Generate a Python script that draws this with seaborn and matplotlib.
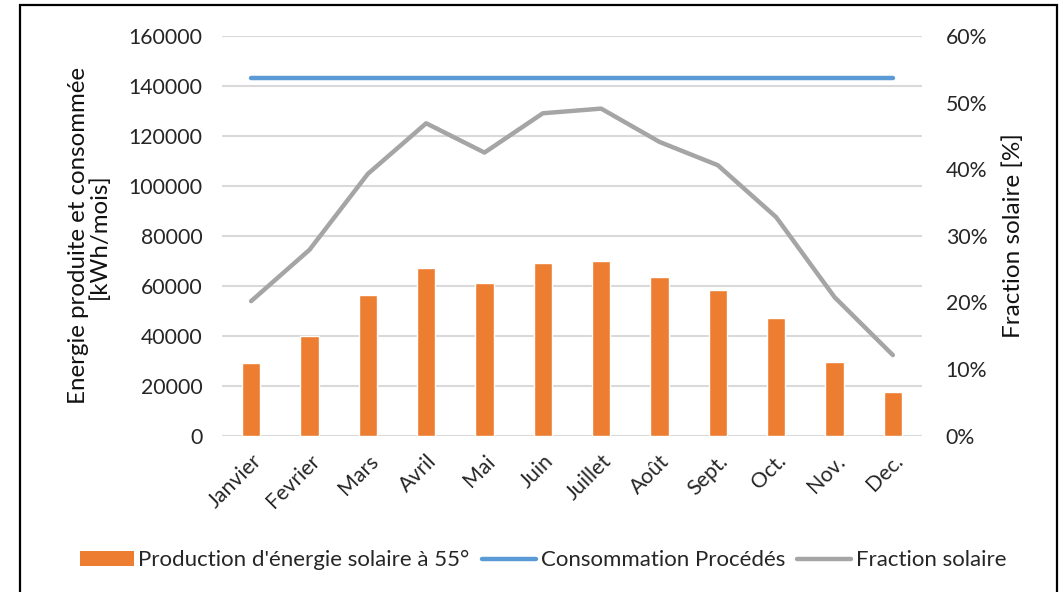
import matplotlib
matplotlib.use("Agg")
import matplotlib.pyplot as plt
from matplotlib.patches import Patch, Rectangle
from matplotlib.lines import Line2D
from matplotlib.ticker import FuncFormatter, MultipleLocator
import seaborn as sns
import pandas as pd

# Monthly data
months = ["Janvier", "Fevrier", "Mars", "Avril", "Mai", "Juin",
          "Juillet", "Août", "Sept.", "Oct.", "Nov.", "Dec."]
production = [29200, 39900, 56500, 67100, 61000, 69200,
              70100, 63600, 58400, 47200, 29600, 17300]
consommation = [143200] * 12
fraction = [0.202, 0.279, 0.393, 0.469, 0.425, 0.484,
            0.491, 0.441, 0.406, 0.328, 0.208, 0.121]

labels_legend = ["Production d'énergie solaire à 55°",
                 "Consommation Procédés", "Fraction solaire"]

ORANGE = "#ED7D31"
BLUE = "#5B9BD5"
GREY = "#A5A5A5"
GRID = "#D9D9D9"
TXT = "#262626"

df = pd.DataFrame({"mois": months, "production": production,
                   "consommation": consommation, "fraction": fraction})

sns.set_theme(style="white")
plt.rcParams["font.family"] = ["Lato", "DejaVu Sans"]

fig = plt.figure(figsize=(10.63, 5.92), dpi=100)
ax = fig.add_axes([0.2088, 0.2640, 0.6586, 0.6752])

sns.barplot(data=df, x="mois", y="production", color=ORANGE,
            saturation=1, width=0.31, ax=ax, zorder=2)
sns.lineplot(data=df, x="mois", y="consommation", color=BLUE, lw=3.2,
             sort=False, ax=ax, zorder=3,
             solid_capstyle="round", solid_joinstyle="round")

ax.set_ylim(0, 160000)
ax.set_xlim(-0.5, len(months) - 0.5)
ax.yaxis.set_major_locator(MultipleLocator(20000))
ax.grid(axis="y", color=GRID, lw=1.5, zorder=0)
ax.set_axisbelow(True)
for s in ax.spines.values():
    s.set_visible(False)
ax.tick_params(axis="both", length=0, labelsize=15.3, colors=TXT)
ax.tick_params(axis="y", pad=14)
ax.tick_params(axis="x", pad=11)
for lab in ax.get_xticklabels():
    lab.set_rotation(45)
    lab.set_ha("right")
    lab.set_rotation_mode("anchor")
ax.set_xlabel("")
ax.set_ylabel("Energie produite et consommée\n[kWh/mois]",
              fontsize=17.3, color="#111111", labelpad=13, linespacing=1.0)

ax2 = ax.twinx()
sns.lineplot(data=df, x="mois", y="fraction", color=GREY, lw=3.2,
             sort=False, ax=ax2, zorder=3,
             solid_capstyle="round", solid_joinstyle="round")
ax2.set_ylim(0, 0.6)
ax2.yaxis.set_major_locator(MultipleLocator(0.1))
ax2.yaxis.set_major_formatter(FuncFormatter(lambda v, _: f"{v * 100:.0f}%"))
ax2.grid(False)
for s in ax2.spines.values():
    s.set_visible(False)
ax2.tick_params(axis="y", length=0, labelsize=15.3, colors=TXT, pad=17)
ax2.set_xlabel("")
ax2.set_ylabel("Fraction solaire [%]", fontsize=17.5, color="#111111",
               labelpad=11)

handles = [Patch(facecolor=ORANGE, edgecolor="none"),
           Line2D([], [], color=BLUE, lw=3.2, solid_capstyle="round"),
           Line2D([], [], color=GREY, lw=3.2, solid_capstyle="round")]
fig.legend(handles, labels_legend, loc="center", ncol=3,
           bbox_to_anchor=(0.511, 1 - 560 / 592), frameon=False,
           fontsize=16, handlelength=2.43, handleheight=0.63,
           handletextpad=0.22, columnspacing=0.55, labelcolor=TXT)

# Outer frame around the chart
fig.patches.append(Rectangle((20 / 1063, -0.05), 1037 / 1063, 1.05 - 5 / 592,
                             transform=fig.transFigure, fill=False,
                             edgecolor="black", lw=1.6))

fig.savefig("out.png", dpi=100, facecolor="white")
